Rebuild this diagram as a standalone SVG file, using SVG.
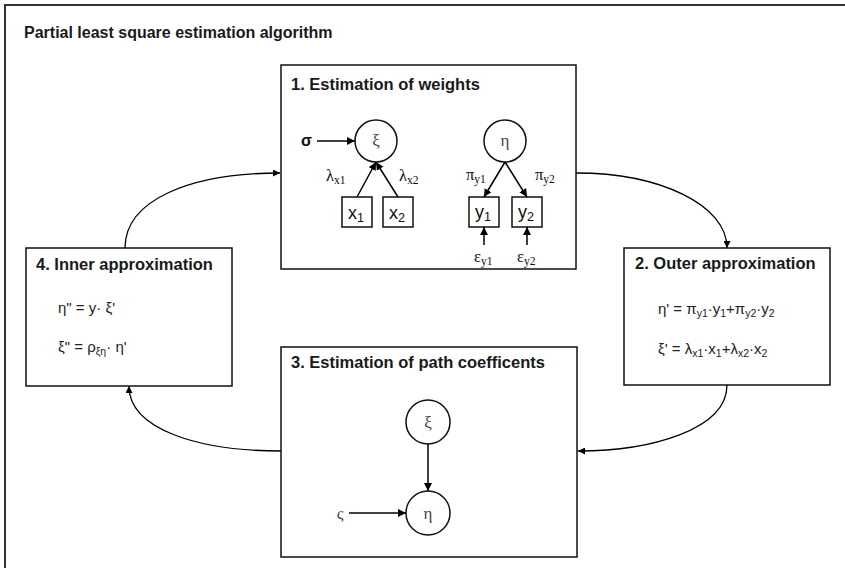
<svg xmlns="http://www.w3.org/2000/svg" width="845" height="568" viewBox="0 0 845 568">
  <defs>
    <marker id="arr" viewBox="0 0 10 10" refX="10" refY="5" markerWidth="7" markerHeight="7" orient="auto" markerUnits="userSpaceOnUse">
      <path d="M0,0 L10,5 L0,10 z" fill="#000"/>
    </marker>
    <marker id="arrS" viewBox="0 0 10 10" refX="10" refY="5" markerWidth="8" markerHeight="8" orient="auto" markerUnits="userSpaceOnUse">
      <path d="M0,0 L10,5 L0,10 z" fill="#000"/>
    </marker>
  </defs>
  <style>
    .frame { fill: none; stroke: #333; stroke-width: 2; }
    .box { fill: #fff; stroke: #111; stroke-width: 1.5; }
    .node { fill: #fff; stroke: #111; stroke-width: 1.5; }
    .title { font-family: "Liberation Sans", Arial, sans-serif; font-weight: bold; font-size: 16.5px; fill: #1a1a1a; }
    .main { font-family: "Liberation Sans", Arial, sans-serif; font-weight: bold; font-size: 16px; fill: #1a1a1a; }
    .greek { font-family: "Liberation Serif", "Times New Roman", serif; font-size: 17px; fill: #444; text-anchor: middle; }
    .lab { font-family: "Liberation Serif", "Times New Roman", serif; font-size: 16.5px; fill: #111; }
    .var { font-family: "Liberation Sans", Arial, sans-serif; font-size: 18px; fill: #111; text-anchor: middle; }
    .eq { font-family: "Liberation Sans", Arial, sans-serif; font-size: 15px; fill: #222; }
    .sub { font-size: 70%; }
    .edge { fill: none; stroke: #000; stroke-width: 1.5; }
    .conn { fill: none; stroke: #000; stroke-width: 1.3; }
  </style>

  <!-- outer frame -->
  <rect class="frame" x="5" y="5" width="860" height="580"/>
  <text class="main" x="24" y="38">Partial least square estimation algorithm</text>

  <!-- cycle connectors between the four steps -->
  <g id="connectors">
    <path class="conn" d="M125,248 C125,200 190,173 280,173" marker-end="url(#arr)"/>
    <path class="conn" d="M576,173 C660,173 727,205 727,248" marker-end="url(#arr)"/>
    <path class="conn" d="M727,385 C727,430 650,451 578,451" marker-end="url(#arr)"/>
    <path class="conn" d="M281,451 C200,451 129,430 129,386" marker-end="url(#arr)"/>
  </g>

  <!-- step 1: estimation of weights -->
  <g id="step1">
    <rect class="box" x="281" y="65" width="295" height="204"/>
    <text class="title" x="291" y="90">1. Estimation of weights</text>
    <g id="xi1">
      <circle class="node" cx="376" cy="141" r="21"/>
      <text class="greek" x="376" y="146">ξ</text>
    </g>
    <g id="eta1">
      <circle class="node" cx="505" cy="141" r="21"/>
      <text class="greek" x="505" y="146">η</text>
    </g>
    <g id="x1">
      <rect class="node" x="342" y="197" width="30" height="30"/>
      <text class="var" x="356" y="219">x<tspan class="sub" dy="3">1</tspan></text>
    </g>
    <g id="x2">
      <rect class="node" x="383" y="197" width="30" height="30"/>
      <text class="var" x="397" y="219">x<tspan class="sub" dy="3">2</tspan></text>
    </g>
    <g id="y1">
      <rect class="node" x="469" y="197" width="30" height="30"/>
      <text class="var" x="483" y="218">y<tspan class="sub" dy="3">1</tspan></text>
    </g>
    <g id="y2">
      <rect class="node" x="512" y="197" width="30" height="30"/>
      <text class="var" x="526" y="218">y<tspan class="sub" dy="3">2</tspan></text>
    </g>
    <g id="edges1">
      <line class="edge" x1="317" y1="141" x2="355" y2="141" marker-end="url(#arrS)"/>
      <line class="edge" x1="357" y1="197" x2="376" y2="162" marker-end="url(#arrS)"/>
      <line class="edge" x1="398" y1="197" x2="376" y2="162" marker-end="url(#arrS)"/>
      <line class="edge" x1="505" y1="162" x2="484" y2="197" marker-end="url(#arrS)"/>
      <line class="edge" x1="505" y1="162" x2="527" y2="197" marker-end="url(#arrS)"/>
      <line class="edge" x1="484" y1="245" x2="484" y2="227" marker-end="url(#arrS)"/>
      <line class="edge" x1="527" y1="245" x2="527" y2="227" marker-end="url(#arrS)"/>
    </g>
    <text class="lab" x="301" y="146" style="font-family:'Liberation Sans',Arial,sans-serif;font-weight:bold;font-size:16px">σ</text>
    <text class="lab" x="326" y="181">λ<tspan class="sub" dy="3">x1</tspan></text>
    <text class="lab" x="399" y="181">λ<tspan class="sub" dy="3">x2</tspan></text>
    <text class="lab" x="466" y="180">π<tspan class="sub" dy="3">y1</tspan></text>
    <text class="lab" x="535" y="180">π<tspan class="sub" dy="3">y2</tspan></text>
    <text class="lab" x="474" y="262">ε<tspan class="sub" dy="3">y1</tspan></text>
    <text class="lab" x="517" y="262">ε<tspan class="sub" dy="3">y2</tspan></text>
  </g>

  <!-- step 2: outer approximation -->
  <g id="step2">
    <rect class="box" x="624" y="248" width="206" height="137"/>
    <text class="title" x="635" y="269">2. Outer approximation</text>
    <text class="eq" x="658" y="314">η' = π<tspan class="sub" dy="3">y1</tspan><tspan dy="-3">·y</tspan><tspan class="sub" dy="3">1</tspan><tspan dy="-3">+π</tspan><tspan class="sub" dy="3">y2</tspan><tspan dy="-3">·y</tspan><tspan class="sub" dy="3">2</tspan></text>
    <text class="eq" x="658" y="354">ξ' = λ<tspan class="sub" dy="3">x1</tspan><tspan dy="-3">·x</tspan><tspan class="sub" dy="3">1</tspan><tspan dy="-3">+λ</tspan><tspan class="sub" dy="3">x2</tspan><tspan dy="-3">·x</tspan><tspan class="sub" dy="3">2</tspan></text>
  </g>

  <!-- step 3: estimation of path coefficients -->
  <g id="step3">
    <rect class="box" x="281" y="347" width="296" height="210"/>
    <text class="title" x="291" y="368">3. Estimation of path coefficents</text>
    <g id="xi3">
      <circle class="node" cx="428" cy="422" r="22"/>
      <text class="greek" x="428" y="428">ξ</text>
    </g>
    <g id="eta3">
      <circle class="node" cx="428" cy="513" r="22"/>
      <text class="greek" x="428" y="519">η</text>
    </g>
    <line class="edge" x1="428" y1="444" x2="428" y2="491" marker-end="url(#arrS)"/>
    <line class="edge" x1="349" y1="513" x2="406" y2="513" marker-end="url(#arrS)"/>
    <text class="greek" x="340" y="519">ς</text>
  </g>

  <!-- step 4: inner approximation -->
  <g id="step4">
    <rect class="box" x="26" y="248" width="206" height="138"/>
    <text class="title" x="36" y="270">4. Inner approximation</text>
    <text class="eq" x="58" y="313">η" = y· ξ'</text>
    <text class="eq" x="58" y="352">ξ" = ρ<tspan class="sub" dy="3">ξη</tspan><tspan dy="-3">· η'</tspan></text>
  </g>
</svg>
